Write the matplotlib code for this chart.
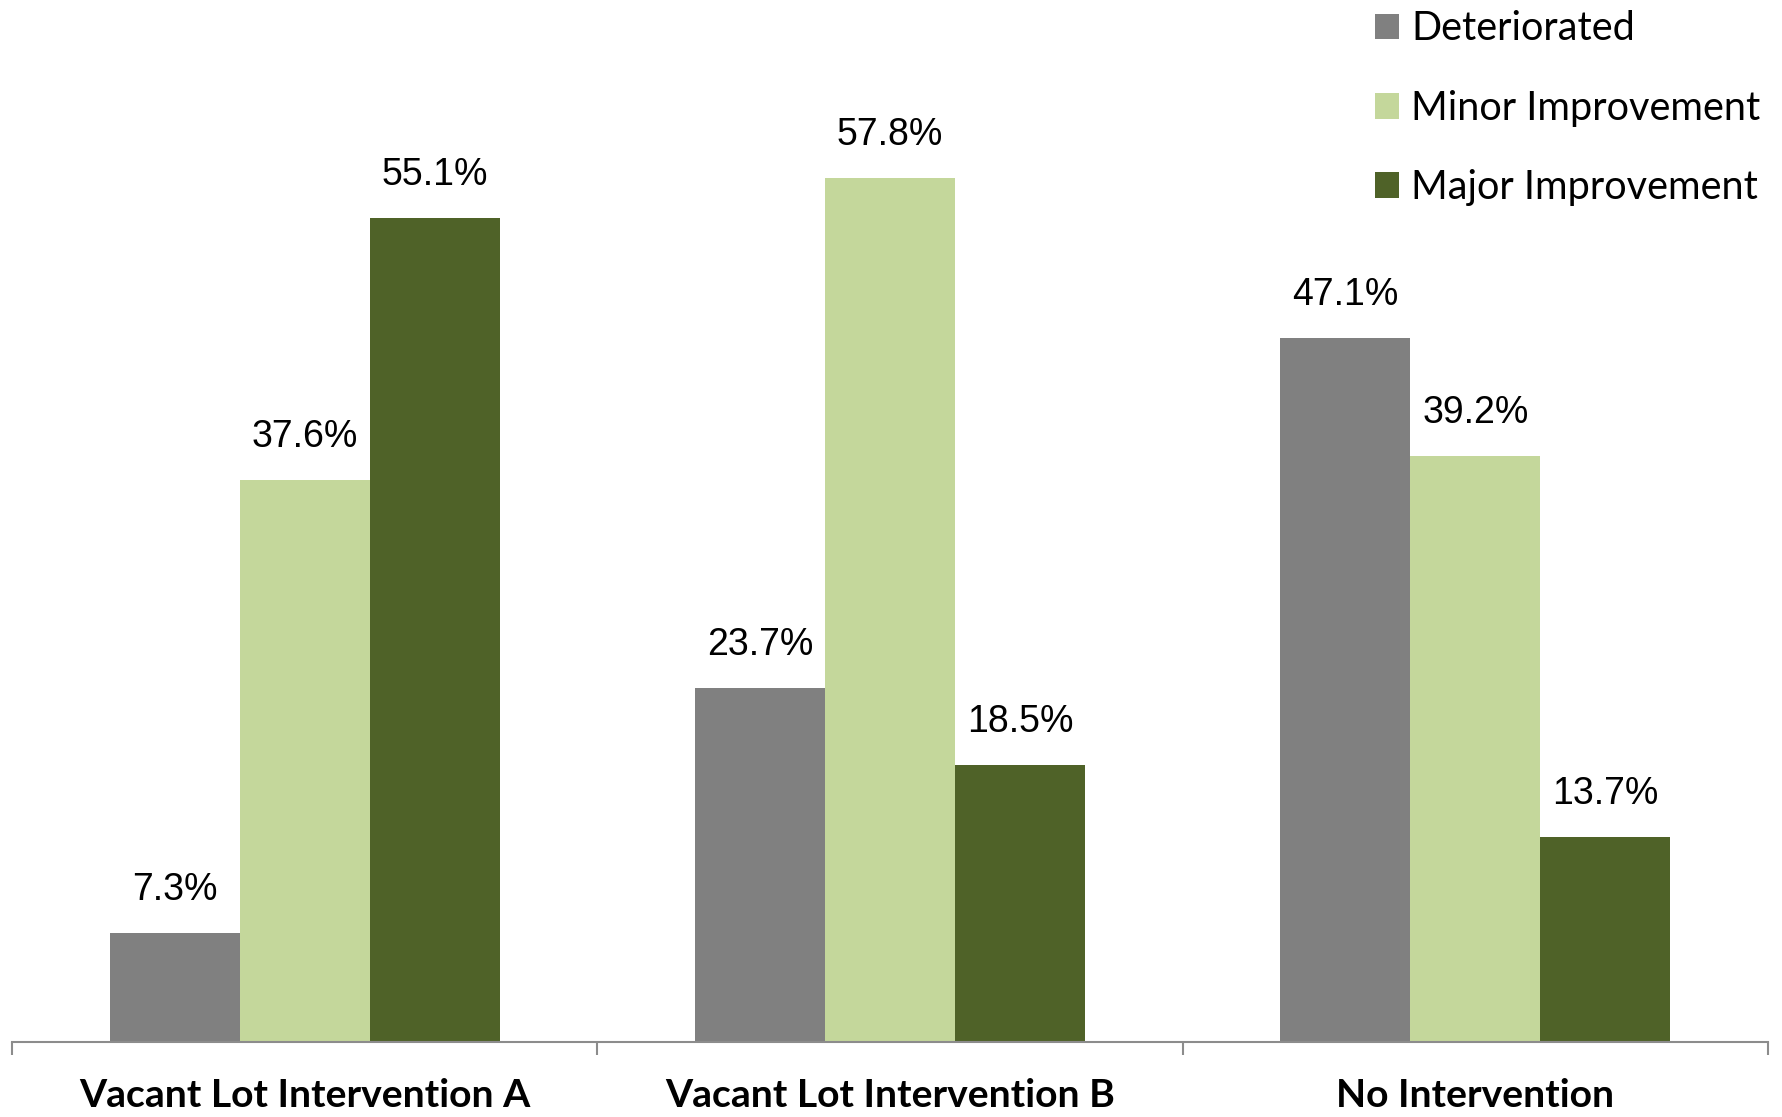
import numpy as np
import matplotlib
matplotlib.use("Agg")
import matplotlib.pyplot as plt
from matplotlib.patches import Patch

# data
categories = ["Vacant Lot Intervention A", "Vacant Lot Intervention B", "No Intervention"]
series_names = ["Deteriorated", "Minor Improvement", "Major Improvement"]
deteriorated = [7.3, 23.7, 47.1]
minor = [37.6, 57.8, 39.2]
major = [55.1, 18.5, 13.7]
colors = ["#808080", "#C4D79B", "#4F6228"]

fig = plt.figure(figsize=(17.83, 11.17), dpi=100)
ax = fig.add_axes([12 / 1783, 75 / 1117, 1756 / 1783, 1042 / 1117])

x = np.arange(len(categories))
w = 0.222
for i, (vals, col) in enumerate(zip([deteriorated, minor, major], colors)):
    pos = x + (i - 1) * w
    bars = ax.bar(pos, vals, width=w, color=col, edgecolor="none")
    for b, v in zip(bars, vals):
        ax.annotate(f"{v:.1f}%", (b.get_x() + b.get_width() / 2, v),
                    xytext=(0, 18), textcoords="offset points",
                    ha="center", va="bottom", fontsize=27,
                    family="Liberation Sans", color="black")

ax.set_xlim(-0.5, 2.5)
ax.set_ylim(0, 69.7)
for s in ["top", "right", "left"]:
    ax.spines[s].set_visible(False)
ax.spines["bottom"].set_color("#8c8c8c")
ax.spines["bottom"].set_linewidth(1.5)
ax.set_yticks([])

ax.set_xticks(x)
ax.set_xticklabels(categories, fontsize=28.2, fontweight="bold", family="Lato")
ax.tick_params(axis="x", which="major", length=0, pad=26)
ax.set_xticks([-0.5, 0.5, 1.5, 2.5], minor=True)
ax.tick_params(axis="x", which="minor", length=9, width=1.5, color="#8c8c8c")

handles = [Patch(facecolor=c, edgecolor="none") for c in colors]
fig.legend(handles, series_names, loc="upper left",
           bbox_to_anchor=(1351 / 1783, 1.012), frameon=False,
           prop={"family": "Lato", "size": 28.5}, borderpad=0.1,
           handlelength=0.62, handleheight=0.62, handletextpad=0.3,
           labelspacing=1.07)

fig.savefig("out.png", dpi=100, facecolor="white")
